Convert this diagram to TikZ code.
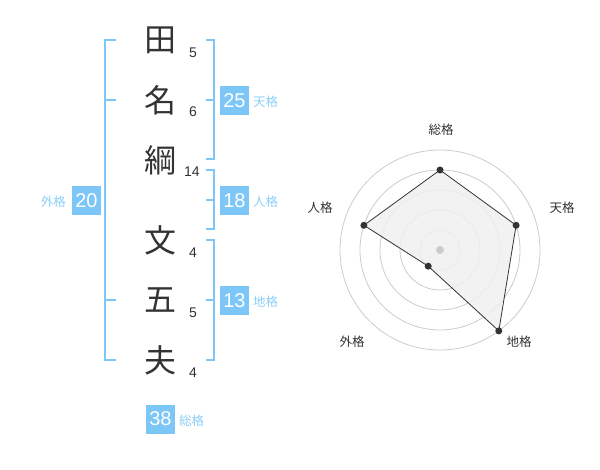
\documentclass[tikz,border=0pt]{standalone}
\usepackage{fontspec}
\setmainfont{Liberation Sans}
\newfontfamily\jp{Noto Sans CJK JP}
\definecolor{bl}{HTML}{7CC7F7}
\definecolor{bllab}{HTML}{8DCFF8}
\definecolor{ink}{HTML}{333333}
\definecolor{ringc}{HTML}{CCCCCC}
\definecolor{polyfill}{HTML}{F0F0F0}
\begin{document}
\begin{tikzpicture}[x=1pt,y=-1pt,
  kanji/.style={font=\jp\fontsize{32}{32}\selectfont, text=ink, inner sep=0},
  num/.style={font=\fontsize{14}{14}\selectfont, text=ink, inner sep=0},
  brk/.style={draw=bl, line width=2pt},
  valbox/.style={fill=bl, text=white, minimum size=29pt, inner sep=0, font=\fontsize{20}{20}\selectfont},
  lab/.style={text=bllab, font=\jp\fontsize{12.5}{12.5}\selectfont, inner sep=0},
  ring/.style={draw=ringc, line width=0.8pt},
  rlab/.style={text=ink, font=\jp\fontsize{12.5}{12.5}\selectfont, inner sep=0},
  dotn/.style={circle, fill=ink, minimum size=7pt, inner sep=0}]
\useasboundingbox (0,0) rectangle (600,470);
\fill[white] (0,0) rectangle (600,470);

% characters
\node[kanji] (c1) at (160,40) {田};
\node[kanji] (c2) at (160,100) {名};
\node[kanji] (c3) at (160,160) {綱};
\node[kanji] (c4) at (160,240) {文};
\node[kanji] (c5) at (160,300) {五};
\node[kanji] (c6) at (160,360) {夫};
% stroke counts
\node[num] (n1) at (193,53) {5};
\node[num] (n2) at (193,112) {6};
\node[num] (n3) at (192,172) {14};
\node[num] (n4) at (193,253) {4};
\node[num] (n5) at (193,313) {5};
\node[num] (n6) at (193,373) {4};

% outer bracket (外格)
\draw[brk] (116,40) -- (105,40) -- (105,360) -- (116,360);
\draw[brk] (105,100) -- (116,100);
\draw[brk] (105,300) -- (116,300);
% 天格 bracket
\draw[brk] (206,40) -- (214,40) -- (214,159) -- (206,159);
\draw[brk] (214,100) -- (206,100);
% 人格 bracket
\draw[brk] (206,170) -- (214,170) -- (214,229) -- (206,229);
\draw[brk] (214,200) -- (206,200);
% 地格 bracket
\draw[brk] (206,240) -- (214,240) -- (214,360) -- (206,360);
\draw[brk] (214,300) -- (206,300);

% value boxes
\node[valbox] (b20) at (86.5,200.5) {20};
\node[lab, anchor=east] (l20) at (66,202) {外格};
\node[valbox] (b25) at (234.5,100.5) {25};
\node[lab, anchor=west] (l25) at (253,102) {天格};
\node[valbox] (b18) at (234.5,200.5) {18};
\node[lab, anchor=west] (l18) at (253,202) {人格};
\node[valbox] (b13) at (234.5,300.5) {13};
\node[lab, anchor=west] (l13) at (253,302) {地格};
\node[valbox] (b38) at (160.5,419) {38};
\node[lab, anchor=west] (l38) at (179,421) {総格};

% radar chart
\coordinate (ctr) at (440,250);
\foreach \r in {20,40,60,80,100} \draw[ring] (ctr) circle[radius=\r pt];
\coordinate (pa) at (440,170);
\coordinate (pb) at (516.1,225.3);
\coordinate (pc) at (498.8,330.9);
\coordinate (pd) at (428.2,266.2);
\coordinate (pe) at (363.9,225.3);
\fill[polyfill, opacity=0.85] (pa) -- (pb) -- (pc) -- (pd) -- (pe) -- cycle;
\draw[ink, line width=0.8pt] (pa) -- (pb) -- (pc) -- (pd) -- (pe) -- cycle;
\node[circle, fill=ringc, minimum size=8pt, inner sep=0] (cdot) at (ctr) {};
\node[dotn] (da) at (pa) {};
\node[dotn] (db) at (pb) {};
\node[dotn] (dc) at (pc) {};
\node[dotn] (dd) at (pd) {};
\node[dotn] (de) at (pe) {};
\node[rlab] (ra) at (441,130) {総格};
\node[rlab] (rb) at (562,208) {天格};
\node[rlab] (rc) at (519,342) {地格};
\node[rlab] (rd) at (352,342) {外格};
\node[rlab] (re) at (320,208) {人格};
\end{tikzpicture}
\end{document}
